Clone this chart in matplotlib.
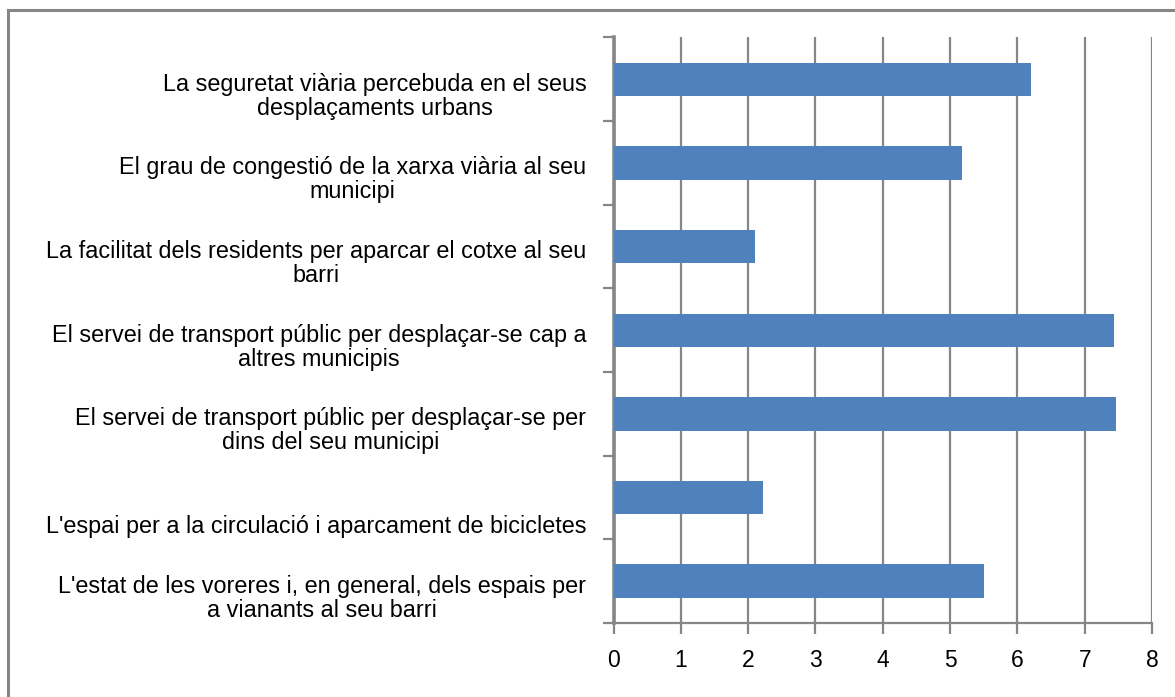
import matplotlib
matplotlib.use("Agg")
import matplotlib.pyplot as plt
from matplotlib.patches import Rectangle
import matplotlib.transforms as mtransforms

# Satisfaction scores (0-10 scale, shown up to 8), top to bottom
categories = [
    "La seguretat viària percebuda en el seus\ndesplaçaments urbans",
    "El grau de congestió de la xarxa viària al seu\nmunicipi",
    "La facilitat dels residents per aparcar el cotxe al seu\nbarri",
    "El servei de transport públic per desplaçar-se cap a\naltres municipis",
    "El servei de transport públic per desplaçar-se per\ndins del seu municipi",
    "\nL'espai per a la circulació i aparcament de bicicletes",
    "L'estat de les voreres i, en general, dels espais per\na vianants al seu barri",
]
scores = [6.20, 5.17, 2.10, 7.43, 7.46, 2.22, 5.51]
x_ticks = [0, 1, 2, 3, 4, 5, 6, 7, 8]

W, H, DPI = 1175, 697, 100
plt.rcParams["font.family"] = ["Liberation Sans", "DejaVu Sans"]

fig = plt.figure(figsize=(W / DPI, H / DPI), dpi=DPI)
fig.patch.set_facecolor("white")

# Chart-area frame
fig.patches.append(Rectangle((8 / W, -0.05), 1.2, 1 - 10 / H + 0.05,
                             transform=fig.transFigure, fill=False,
                             edgecolor="#868686", linewidth=2.2))

left, right, top, bottom = 613.5, 1152, 37.5, 623
ax = fig.add_axes([left / W, 1 - bottom / H, (right - left) / W, (bottom - top) / H])

grey = "#868686"
n = len(categories)
ypos = list(range(n))
ax.barh(ypos, scores, height=0.40, color="#4F81BD", zorder=3)

ax.set_xlim(0, 8)
ax.set_ylim(n - 0.5, -0.5)
ax.set_xticks(x_ticks)
ax.set_xticklabels([str(t) for t in x_ticks], fontsize=16.5)

# category tick marks at the boundaries, labels at the centres
ax.set_yticks([i - 0.5 for i in range(n + 1)])
ax.set_yticklabels([])
ax.tick_params(axis="y", which="major", length=8, width=1.6, color=grey)
ax.set_yticks(ypos, minor=True)
ax.set_yticklabels(categories, minor=True, fontsize=16.8, ha="right",
                   multialignment="center", linespacing=1.05)
ax.tick_params(axis="y", which="minor", length=0, pad=19.5)
shift = mtransforms.ScaledTranslation(0, -14 / DPI, fig.dpi_scale_trans)
for lbl in ax.get_yticklabels(minor=True):
    lbl.set_transform(lbl.get_transform() + shift)

ax.tick_params(axis="x", length=8, width=1.6, color=grey, pad=11)

ax.grid(axis="x", color=grey, linewidth=1.6, zorder=0)
for side in ("top", "right"):
    ax.spines[side].set_visible(False)
ax.spines["left"].set_color(grey)
ax.spines["left"].set_linewidth(2.6)
ax.spines["bottom"].set_color(grey)
ax.spines["bottom"].set_linewidth(1.6)
ax.set_axisbelow(True)

fig.savefig("out.png", dpi=DPI)
